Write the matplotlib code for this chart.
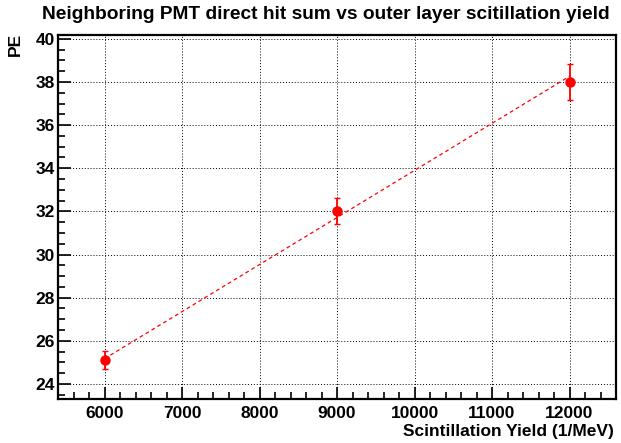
#! /usr/bin/env python3

'''
PE from neighbouring PMT direct hits vs outer layer scintillation yield,
with a weighted straight-line fit.
'''

import matplotlib
matplotlib.use('Agg')
import matplotlib.pyplot as plt
from matplotlib.ticker import MultipleLocator
import numpy as np


yield_per_mev = [6000, 9000, 12000]
pe_sum = [25.1, 32.0, 38.0]
pe_err = [0.42, 0.6, 0.82]

title = 'Neighboring PMT direct hit sum vs outer layer scitillation yield'
xlabel = 'Scintillation Yield (1/MeV)'
ylabel = 'PE'

plt.rcParams['font.family'] = ['Liberation Sans', 'DejaVu Sans']
plt.rcParams['font.weight'] = 'bold'


def main():
    fig = plt.figure(figsize=(6.21, 4.43), dpi=100)
    ax = fig.add_axes([0.0934, 0.0993, 0.8986, 0.8227])

    x = np.array(yield_per_mev, dtype=float)
    y = np.array(pe_sum)
    e = np.array(pe_err)

    # weighted linear fit, drawn between the first and last point
    slope, offset = np.polyfit(x, y, 1, w=1 / e)
    xf = np.array([x[0], x[-1]])
    ax.plot(xf, offset + slope * xf, color='red', lw=0.9,
            linestyle=(0, (3, 2.5)), zorder=3)

    ax.errorbar(x, y, yerr=e, fmt='o', color='red', ms=6.5,
                elinewidth=1.3, capsize=2, capthick=1.0, zorder=4)

    ax.set_xlim(5400, 12600)
    ax.set_ylim(23.3, 40.2)
    ax.xaxis.set_major_locator(MultipleLocator(1000))
    ax.xaxis.set_minor_locator(MultipleLocator(200))
    ax.yaxis.set_major_locator(MultipleLocator(2))
    ax.yaxis.set_minor_locator(MultipleLocator(0.5))
    ax.tick_params(which='both', direction='in', top=False, right=False,
                   labelsize=12.5, width=1.2)
    ax.tick_params(which='major', length=9)
    ax.tick_params(which='minor', length=5)
    ax.tick_params(axis='x', pad=5)
    ax.tick_params(axis='y', pad=2)
    for lab in ax.get_xticklabels() + ax.get_yticklabels():
        lab.set_fontweight('bold')

    ax.grid(True, which='major', color='black', lw=0.7,
            linestyle=(0, (1, 2)))
    for spine in ax.spines.values():
        spine.set_linewidth(1.6)

    fig.text(0.525, 0.968, title, ha='center', va='center',
             fontsize=13.8, fontweight='bold')
    fig.text(0.989, 0.025, xlabel, ha='right', va='center',
             fontsize=12.5, fontweight='bold')
    fig.text(0.024, 0.9, ylabel, ha='center', va='center',
             rotation=90, fontsize=12.5, fontweight='bold')

    fig.savefig('out.png', dpi=100)


if __name__ == '__main__':
    main()
